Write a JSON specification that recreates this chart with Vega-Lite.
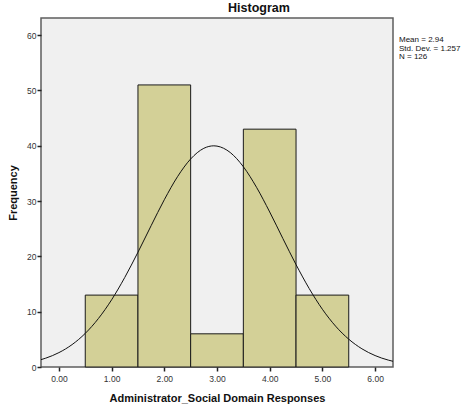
{
  "$schema": "https://vega.github.io/schema/vega-lite/v6.json",
  "autosize": "none",
  "width": 352,
  "height": 349,
  "padding": {"left": 41, "top": 18, "right": 75, "bottom": 43},
  "background": "white",
  "config": {
    "font": "Liberation Sans",
    "view": {"fill": "#F0F0F0", "stroke": "#5E5E5E", "strokeWidth": 1.5},
    "axis": {"domain": false, "grid": false, "labelFont": "Liberation Sans", "titleFont": "Liberation Sans"}
  },
  "title": {
    "text": "Histogram",
    "fontSize": 12.5,
    "fontWeight": "bold",
    "font": "Liberation Sans",
    "color": "#111111",
    "anchor": "middle",
    "dx": 42,
    "offset": 4
  },
  "datasets": {
    "bins": [
      {"bin_start": 0.5, "bin_end": 1.5, "count": 13},
      {"bin_start": 1.5, "bin_end": 2.5, "count": 51},
      {"bin_start": 2.5, "bin_end": 3.5, "count": 6},
      {"bin_start": 3.5, "bin_end": 4.5, "count": 43},
      {"bin_start": 4.5, "bin_end": 5.5, "count": 13}
    ],
    "curve": [
      {"x": -0.34, "y": 1.33},
      {"x": -0.25, "y": 1.6},
      {"x": 0.0, "y": 2.6},
      {"x": 0.25, "y": 4.05},
      {"x": 0.5, "y": 6.08},
      {"x": 0.75, "y": 8.77},
      {"x": 1.0, "y": 12.15},
      {"x": 1.25, "y": 16.2},
      {"x": 1.5, "y": 20.75},
      {"x": 1.75, "y": 25.55},
      {"x": 2.0, "y": 30.24},
      {"x": 2.25, "y": 34.4},
      {"x": 2.5, "y": 37.61},
      {"x": 2.75, "y": 39.54},
      {"x": 2.94, "y": 39.99},
      {"x": 3.0, "y": 39.94},
      {"x": 3.25, "y": 38.79},
      {"x": 3.5, "y": 36.21},
      {"x": 3.75, "y": 32.49},
      {"x": 4.0, "y": 28.03},
      {"x": 4.25, "y": 23.23},
      {"x": 4.5, "y": 18.51},
      {"x": 4.75, "y": 14.18},
      {"x": 5.0, "y": 10.44},
      {"x": 5.25, "y": 7.39},
      {"x": 5.5, "y": 5.03},
      {"x": 5.75, "y": 3.29},
      {"x": 6.0, "y": 2.07},
      {"x": 6.25, "y": 1.25},
      {"x": 6.34, "y": 1.03}
    ]
  },
  "layer": [
    {
      "data": {"name": "bins"},
      "mark": {"type": "rect", "fill": "#D3D097", "stroke": "#1A1A1A", "strokeWidth": 1},
      "encoding": {
        "x": {
          "field": "bin_start",
          "type": "quantitative",
          "scale": {"domain": [-0.34, 6.34], "nice": false, "zero": false},
          "axis": {
            "values": [0, 1, 2, 3, 4, 5, 6],
            "format": ".2f",
            "title": "Administrator_Social Domain Responses",
            "titleFontSize": 11,
            "titleFontWeight": "bold",
            "titleColor": "#111111",
            "titlePadding": 10,
            "labelFontSize": 8.5,
            "labelColor": "#333333",
            "labelPadding": 3,
            "tickColor": "#222222",
            "tickSize": 4,
            "tickWidth": 1.5
          }
        },
        "x2": {"field": "bin_end"},
        "y": {
          "field": "count",
          "type": "quantitative",
          "scale": {"domain": [0, 63.1], "nice": false},
          "axis": {
            "values": [0, 10, 20, 30, 40, 50, 60],
            "title": "Frequency",
            "titleFontSize": 11,
            "titleFontWeight": "bold",
            "titleColor": "#111111",
            "titlePadding": 8,
            "labelFontSize": 8.5,
            "labelColor": "#333333",
            "labelPadding": 1,
            "tickColor": "#222222",
            "tickSize": 4,
            "tickWidth": 1.5
          }
        },
        "y2": {"datum": 0}
      }
    },
    {
      "data": {"name": "curve"},
      "mark": {"type": "line", "color": "#111111", "strokeWidth": 1, "interpolate": "monotone", "clip": true},
      "encoding": {
        "x": {"field": "x", "type": "quantitative"},
        "y": {"field": "y", "type": "quantitative"}
      }
    },
    {
      "data": {"values": [{"label": "stats"}]},
      "mark": {
        "type": "text",
        "align": "left",
        "baseline": "top",
        "fontSize": 8,
        "lineHeight": 8.5,
        "color": "#111111",
        "dx": 6,
        "clip": false,
        "font": "Liberation Sans"
      },
      "encoding": {
        "x": {"datum": 6.34},
        "y": {"datum": 59.8},
        "text": {"value": ["Mean = 2.94", "Std. Dev. = 1.257", "N = 126"]}
      }
    }
  ]
}
